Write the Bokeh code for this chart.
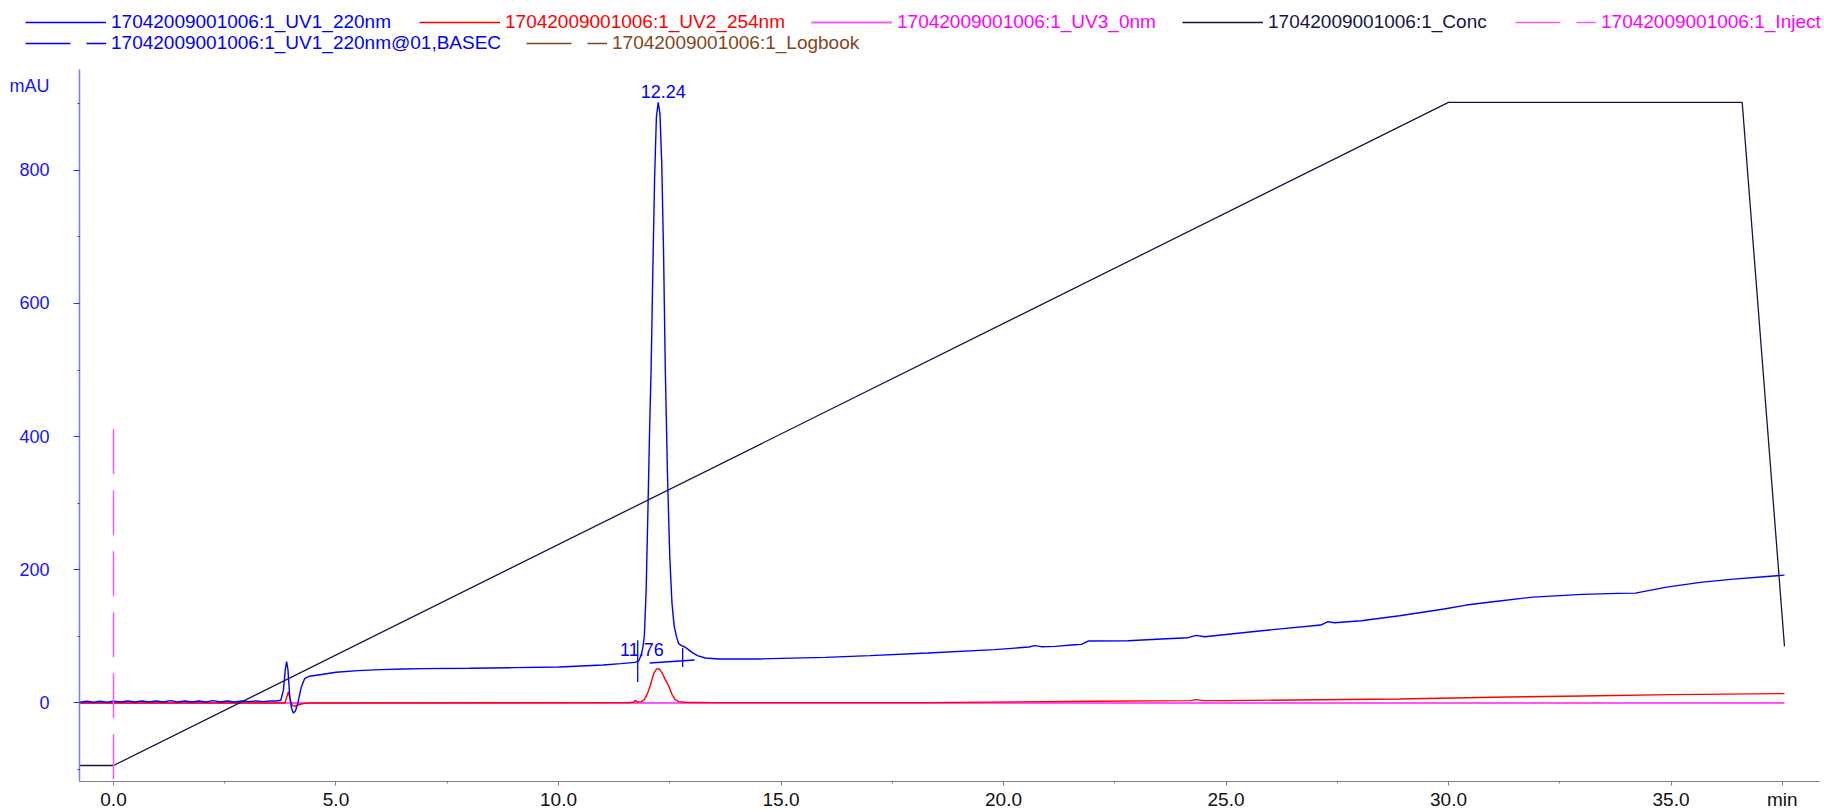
from bokeh.plotting import figure
from bokeh.models import (Range1d, FixedTicker, CustomJSTickFormatter, Legend, LegendItem,
                          LinearAxis)
from bokeh.embed import file_html
from bokeh.resources import INLINE
from bokeh.core.properties import value

# ---------------- data ----------------
uv1_time = [-0.76, -0.6, -0.45, -0.3, -0.15, 0.0, 0.16, 0.32, 0.48, 0.64, 0.8, 0.96, 1.12, 1.28,
            1.44, 1.6, 1.76, 1.92, 2.08, 2.24, 2.4, 2.56, 2.72, 2.88, 3.04, 3.2, 3.36, 3.52, 3.66,
            3.76, 3.82, 3.86, 3.89, 3.92, 3.96, 4.0, 4.04, 4.09, 4.15, 4.22, 4.3, 4.4, 4.6, 5.0,
            5.5, 6.0, 6.5, 7.0, 8.0, 9.0, 10.0, 10.5, 11.0, 11.4, 11.72, 11.8, 11.86, 11.9, 11.93,
            11.97, 12.01, 12.05, 12.08, 12.12, 12.16, 12.2, 12.24, 12.28, 12.32, 12.36, 12.4,
            12.45, 12.5, 12.55, 12.6, 12.65, 12.7, 12.76, 12.84, 12.92, 13.0, 13.12, 13.3, 13.6,
            14.5, 15.0, 16.0, 17.0, 18.3, 19.8, 20.57, 20.7, 20.85, 21.16, 21.6, 21.75, 21.9,
            22.8, 23.55, 24.15, 24.33, 24.52, 25.8, 27.13, 27.29, 27.44, 28.04, 28.9, 29.9, 30.4,
            31.0, 31.9, 33.0, 33.8, 34.2, 34.9, 35.66, 36.4, 37.16, 37.55]
uv1_mau = [1.0, 2.5, 1.0, 2.5, 1.0, 2.5, 1.5, 3.0, 1.5, 3.0, 1.5, 3.0, 1.5, 3.5,
           1.5, 3.0, 1.5, 3.0, 1.5, 3.5, 1.5, 3.0, 1.5, 3.0, 2.0, 3.0, 2.0, 3.0, 3.0,
           4.0, 20.0, 50.0, 62.0, 50.0, 10.0, -8.0, -15.0, -12.0, 2.0, 24.0, 37.0, 40.0, 42.0, 46.0,
           48.5, 50.0, 51.0, 51.5, 52.0, 53.0, 54.0, 55.5, 57.0, 59.0, 61.0, 63.0, 72.0, 85.0, 102.0,
           170.0, 290.0, 420.0, 497.0, 650.0, 790.0, 880.0, 902.0, 885.0, 810.0, 680.0, 500.0,
           340.0, 220.0, 150.0, 115.0, 100.0, 89.0, 86.0, 84.0, 80.0, 76.0, 71.0, 67.5, 66.0,
           66.0, 67.0, 68.5, 71.0, 75.0, 80.0, 84.0, 86.0, 84.5, 85.0, 87.5, 88.0, 93.0,
           93.5, 96.0, 98.0, 101.5, 99.5, 108.5, 117.0, 122.0, 120.5, 123.5, 131.0, 141.0, 147.0,
           152.0, 159.0, 163.0, 164.5, 165.0, 174.0, 181.0, 186.0, 190.0, 192.0]

uv2_time = [-0.76, 3.85, 3.9, 3.93, 3.97, 4.02, 4.08, 4.2, 4.35, 11.6, 11.7, 11.73, 11.77, 11.86,
            11.93, 12.0, 12.07, 12.14, 12.2, 12.26, 12.32, 12.4, 12.48, 12.55, 12.62, 12.7, 12.85,
            13.5, 18.3, 22.0, 24.2, 24.33, 24.5, 25.0, 28.9, 31.0, 33.0, 35.0, 37.55]
uv2_mau = [0.0, 0.0, 10.0, 17.0, 5.0, -4.0, -5.0, -2.0, 0.0, 0.5, 1.5, 4.0, 1.5, 2.0,
           5.0, 14.0, 28.0, 44.0, 51.0, 51.5, 46.0, 35.0, 25.0, 13.0, 5.0, 2.0, 1.0,
           0.5, 0.5, 2.5, 3.5, 5.0, 3.5, 3.5, 6.0, 8.5, 10.5, 12.5, 14.0]

uv3_time = [-0.76, 37.55]
uv3_mau = [0.0, 0.0]

conc_time = [-0.76, 0.0, 30.0, 36.6, 37.55]
conc_value = [-94.0, -94.0, 902.0, 902.0, 85.0]

inject_time = [0.0, 0.0]
inject_value = [411.0, -118.0]

basec_time = [12.05, 13.06]
basec_mau = [60.0, 64.5]

marker_time = [11.78, 12.79]
marker_top = [94.0, 82.5]
marker_bottom = [31.5, 54.0]

peak_rt = [11.76, 12.24]
peak_text = ["11.76", "12.24"]
peak_text_y = [67.0, 905.0]

# the logbook trace only marks the injection event
logbook_time = [0.0, 0.0]
logbook_value = [411.0, -118.0]

legend_labels = ["17042009001006:1_UV1_220nm", "17042009001006:1_UV2_254nm",
                 "17042009001006:1_UV3_0nm", "17042009001006:1_Conc",
                 "17042009001006:1_Inject", "17042009001006:1_UV1_220nm@01,BASEC",
                 "17042009001006:1_Logbook"]

x_major = [0.0, 5.0, 10.0, 15.0, 20.0, 25.0, 30.0, 35.0, 37.5]
x_minor = [2.5, 7.5, 12.5, 17.5, 22.5, 27.5, 32.5]
y_major = [0, 200, 400, 600, 800]
y_minor = [-100, 100, 300, 500, 700, 900]
y_unit_pos = 927

# ---------------- styling ----------------
FONT = "Liberation Sans"
BLUE = "#0000ff"
RED = "#ff0000"
MAG = "#ff55ff"
MAG_TXT = "#ff00ff"
NAVY = "#15154a"
BROWN = "#85461a"
DASH = "45 16"

LEG_H = 56

styles = {
    "uv1": dict(line_color=BLUE, line_width=1.4),
    "uv2": dict(line_color=RED, line_width=1.4),
    "uv3": dict(line_color=MAG, line_width=2),
    "conc": dict(line_color=NAVY, line_width=1.3),
    "inj": dict(line_color=MAG, line_width=1.5, line_dash=DASH),
    "basec": dict(line_color=BLUE, line_width=1.3, line_dash=DASH),
    "log": dict(line_color=BROWN, line_width=1.3, line_dash=DASH),
}
series = {
    "uv1": (uv1_time, uv1_mau),
    "uv2": (uv2_time, uv2_mau),
    "uv3": (uv3_time, uv3_mau),
    "conc": (conc_time, conc_value),
    "inj": (inject_time, inject_value),
    "basec": (basec_time, basec_mau),
    "log": (logbook_time, logbook_value),
}

# ---------------- main chart ----------------
p = figure(width=1824, height=812 - LEG_H, output_backend="svg", toolbar_location=None,
           x_range=Range1d(-0.764, 38.337), y_range=Range1d(-118, 951.4),
           min_border_left=79, min_border_right=5, min_border_top=69 - LEG_H,
           min_border_bottom=30)
p.outline_line_color = None
p.xgrid.visible = False
p.ygrid.visible = False
p.background_fill_color = "white"
p.border_fill_color = "white"

for key in ["uv3", "uv2", "conc", "uv1", "inj", "basec"]:
    xs, ys = series[key]
    p.line(xs, ys, **styles[key])
p.segment(x0=marker_time, y0=marker_bottom, x1=marker_time, y1=marker_top,
          line_color=BLUE, line_width=1.3)
p.text(x=peak_rt, y=peak_text_y, text=peak_text, x_offset=5, y_offset=-9,
       text_align="center", text_baseline="alphabetic", text_color=BLUE,
       text_font=value(FONT), text_font_size="18px")

# x axis
xa = p.xaxis[0]
xa.ticker = FixedTicker(ticks=x_major, minor_ticks=x_minor)
xa.formatter = CustomJSTickFormatter(code="return tick == 37.5 ? 'min' : tick.toFixed(1);")
xa.axis_line_color = "#808080"
xa.major_tick_line_color = "#808080"
xa.minor_tick_line_color = "#808080"
xa.major_tick_in = 0
xa.major_tick_out = 4
xa.minor_tick_in = 0
xa.minor_tick_out = 2
xa.major_label_standoff = 3
xa.major_label_text_font = FONT
xa.major_label_text_font_size = "19px"
xa.major_label_text_color = "#111111"

# inner y axis: line and tick marks only
ya = p.yaxis[0]
ya.ticker = FixedTicker(ticks=y_major, minor_ticks=y_minor)
ya.formatter = CustomJSTickFormatter(code="return '';")
ya.axis_line_color = "#7a7aff"
ya.axis_line_width = 1.5
ya.major_tick_line_color = "#2a2aff"
ya.minor_tick_line_color = "#2a2aff"
ya.major_tick_in = 0
ya.major_tick_out = 6
ya.minor_tick_in = 0
ya.minor_tick_out = 2
ya.major_label_standoff = 0

# outer y axis: tick labels and the unit
yl = LinearAxis(ticker=FixedTicker(ticks=y_major + [y_unit_pos], minor_ticks=[]),
                formatter=CustomJSTickFormatter(
                    code="return tick > 900 ? 'mAU' : tick.toFixed(0);"),
                axis_line_color=None, major_tick_line_color=None, minor_tick_line_color=None,
                major_tick_in=0, major_tick_out=0, minor_tick_in=0, minor_tick_out=0,
                major_label_standoff=24, major_label_text_font=FONT,
                major_label_text_font_size="18px", major_label_text_color="#1414ff")
p.add_layout(yl, "left")

# ---------------- legend strip (separate root so its frame spans the full width) -------
lf = figure(width=1824, height=LEG_H, output_backend="svg", toolbar_location=None,
            x_axis_type=None, y_axis_type=None,
            x_range=Range1d(1000, 1001), y_range=Range1d(5000, 5001),
            min_border_left=0, min_border_right=0, min_border_top=0, min_border_bottom=0)
lf.outline_line_color = None
lf.xgrid.visible = False
lf.ygrid.visible = False
lf.border_fill_color = "white"
lf.background_fill_color = "white"

entries = [
    (legend_labels[0], "uv1", BLUE, (25, 23)),
    (legend_labels[1], "uv2", RED, (419, 23)),
    (legend_labels[2], "uv3", MAG_TXT, (811, 23)),
    (legend_labels[3], "conc", NAVY, (1182, 23)),
    (legend_labels[4], "inj", MAG_TXT, (1515, 23)),
    (legend_labels[5], "basec", BLUE, (25, 2)),
    (legend_labels[6], "log", BROWN, (526, 2)),
]
for lab, key, col, loc in entries:
    xs, ys = series[key]
    rend = lf.line(xs, ys, **styles[key])
    lg = Legend(items=[LegendItem(label=lab, renderers=[rend])], location=loc,
                orientation="horizontal", glyph_width=81, glyph_height=20, label_height=20,
                label_standoff=5, padding=0, margin=0, spacing=0,
                border_line_color=None, background_fill_alpha=0,
                label_text_font=FONT, label_text_font_size="19px", label_text_color=col)
    lf.add_layout(lg, "center")

open("out.html", "w").write(file_html([lf, p], INLINE))
